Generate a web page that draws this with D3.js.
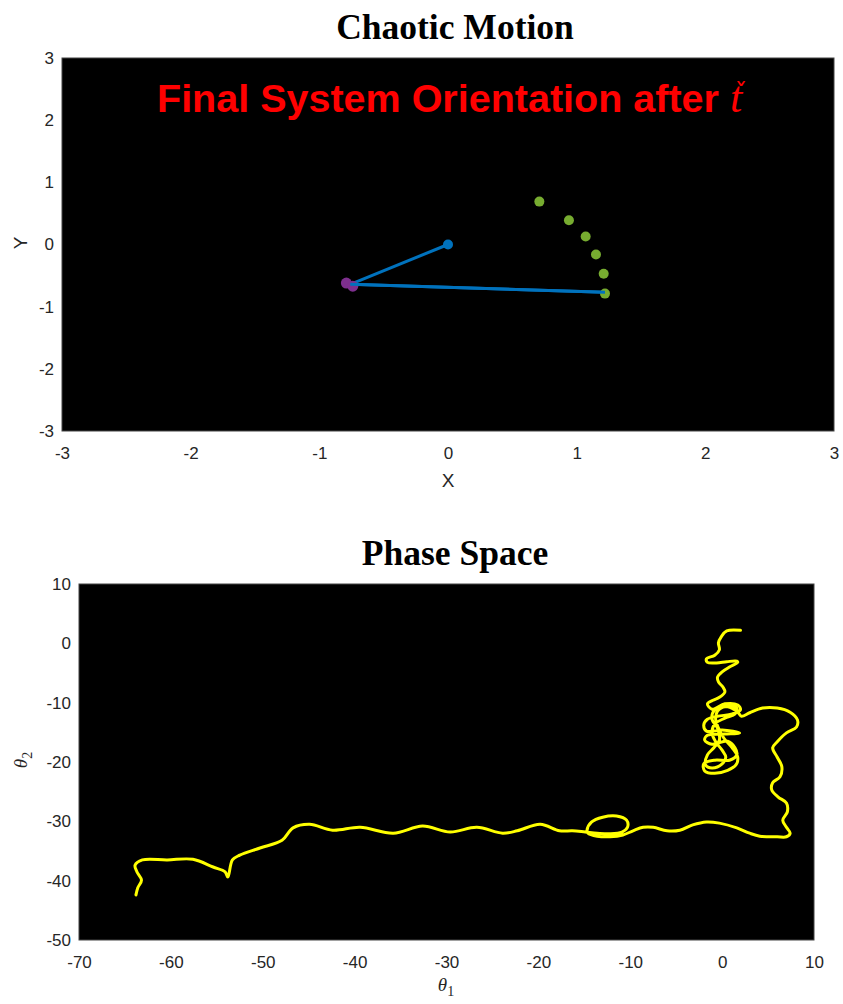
<!DOCTYPE html>
<html><head><meta charset="utf-8">
<script src="https://cdn.jsdelivr.net/npm/d3@7"></script>
<style>body{margin:0;background:#fff}svg{display:block}</style>
</head><body>
<script>
// ---- Data ----
const topTicks = [-3,-2,-1,0,1,2,3];
const pivot = [[0,0]];
const rodPath = [[0,0],[-0.76,-0.64],[1.22,-0.77]];
const mass1Trail = [[-0.79,-0.62],[-0.74,-0.67]];
const mass2Trail = [[0.71,0.69],[0.94,0.39],[1.07,0.13],[1.15,-0.16],[1.21,-0.47],[1.22,-0.79]];

const phaseXTicks = [-70,-60,-50,-40,-30,-20,-10,0,10];
const phaseYTicks = [10,0,-10,-20,-30,-40,-50];
const theta1 = [2.0,0.5,-0.1,-0.4,-0.3,-0.8,-1.7,-1.6,-0.6,0.5,1.6,1.7,0.8,0.0,-0.5,-0.4,0.1,0.3,-0.3,-1.0,-1.6,
 -1.1,0.3,1.7,2.0,1.1,-0.5,-1.6,-2.0,-1.7,0.0,1.9,0.3,-1.6,-1.9,-1.1,0.6,1.4,1.6,0.8,-0.8,-2.0,-1.9,-0.8,0.6,1.5,1.7,1.1,0.2,-0.4,-0.7,-0.5,0.5,1.6,1.4,0.3,-0.8,-1.1,-0.7,0.0,0.4,0.0,-1.1,-1.8,-1.6,-0.9,-0.3,-0.5,-1.1,-0.8,0.6,1.7,2.1,
 3.0,4.4,6.0,7.4,8.2,8.1,7.0,6.0,5.5,6.0,6.5,6.3,5.5,5.4,6.1,7.0,7.1,6.6,7.0,7.4,7.0,6.0,4.1,3.0,1.6,-0.3,-1.7,-3.2,-4.6,-6.0,-7.5,-8.6,-9.7,-10.8,-12.2,-13.6,-14.6,-14.7,-14.2,-13.0,-11.5,-10.4,-10.3,-10.9,-12.2,-13.6,-14.9,-16.3,-17.7,
 -19.8,-22.3,-23.9,-26.7,-29.6,-32.6,-35.8,-39.4,-42.4,-44.9,-46.7,-47.9,-50.3,-52.5,-53.3,-53.8,-54.1,-55.4,-57.6,-60.4,-63.1,-63.9,-63.7,-63.2,-63.6,-63.8];
const theta2 = [2.2,2.1,1.1,0.1,-1.1,-2.0,-2.6,-3.2,-3.3,-3.1,-3.0,-3.2,-4.0,-4.8,-5.7,-6.5,-7.4,-8.2,-9.1,-9.6,-10.2,
 -11.1,-10.2,-10.4,-11.2,-11.9,-12.3,-12.8,-13.8,-14.8,-14.6,-15.1,-15.3,-15.5,-16.3,-17.0,-16.5,-17.6,-18.8,-19.7,-19.7,-20.3,-21.5,-21.9,-21.4,-20.5,-19.2,-17.6,-16.0,-14.3,-12.9,-11.4,-10.6,-10.9,-11.9,-12.6,-13.6,-15.1,-16.6,-18.0,-19.2,-20.3,-21.0,-20.5,-18.8,-17.6,-16.3,-14.3,-12.8,-11.2,-10.7,-11.6,-12.3,
 -11.7,-10.9,-10.9,-11.6,-12.9,-14.1,-15.1,-16.6,-17.6,-19.2,-20.8,-22.5,-23.5,-24.7,-25.9,-26.9,-28.4,-29.8,-31.0,-32.0,-32.6,-32.6,-32.5,-32.0,-31.1,-30.3,-30.1,-30.6,-31.5,-31.6,-31.0,-31.0,-31.6,-32.3,-32.6,-32.5,-32.0,-31.5,-30.1,-29.3,-29.1,-29.8,-31.0,-31.8,-32.1,-32.0,-31.8,-31.6,-31.6,
 -30.5,-31.6,-32.0,-31.0,-31.8,-30.8,-32.0,-31.0,-31.5,-30.5,-31.1,-33.2,-34.5,-35.7,-36.5,-39.4,-38.5,-37.7,-36.4,-36.5,-36.5,-37.4,-38.5,-39.9,-41.2,-42.4];

// ---- Layout ----
const W = 843, H = 1004;
const svg = d3.select("body").append("svg").attr("width", W).attr("height", H);
const tickColor = "#262626";
const font = "'Liberation Sans', Arial, sans-serif";
const serif = "'Liberation Serif','Times New Roman',serif";
const fmt = d => String(d);

function styleAxis(g){
  g.select(".domain").remove();
  g.selectAll(".tick line").remove();
  g.selectAll("text").attr("fill",tickColor).style("font-family",font).style("font-size","17px");
}

// ---- Top plot ----
const t = {l:62, r:834, t:58, b:431};
const x1 = d3.scaleLinear().domain([-3,3]).range([t.l, t.r]);
const y1 = d3.scaleLinear().domain([-3,3]).range([t.b, t.t]);
svg.append("rect").attr("x",t.l).attr("y",t.t).attr("width",t.r-t.l).attr("height",t.b-t.t)
  .attr("fill","#000").attr("stroke","#444").attr("stroke-width",1);
svg.append("g").attr("transform",`translate(0,${t.b})`)
  .call(d3.axisBottom(x1).tickValues(topTicks).tickFormat(fmt).tickSize(6).tickPadding(10))
  .call(styleAxis);
svg.append("g").attr("transform",`translate(${t.l},0)`)
  .call(d3.axisLeft(y1).tickValues(topTicks).tickFormat(fmt).tickSize(0).tickPadding(8))
  .call(styleAxis);

svg.append("path").datum(rodPath)
  .attr("d", d3.line().x(d=>x1(d[0])).y(d=>y1(d[1])))
  .attr("fill","none").attr("stroke","#0072BD").attr("stroke-width",3);
svg.selectAll(".m2").data(mass2Trail).join("circle")
  .attr("cx",d=>x1(d[0])).attr("cy",d=>y1(d[1])).attr("r",5).attr("fill","#77AC30");
svg.selectAll(".m1").data(mass1Trail).join("circle")
  .attr("cx",d=>x1(d[0])).attr("cy",d=>y1(d[1])).attr("r",5.5).attr("fill","#7E2F8E");
svg.append("path").datum(rodPath.slice(1))
  .attr("d", d3.line().x(d=>x1(d[0])).y(d=>y1(d[1])))
  .attr("fill","none").attr("stroke","#0072BD").attr("stroke-width",3);
svg.selectAll(".pv").data(pivot).join("circle")
  .attr("cx",d=>x1(d[0])).attr("cy",d=>y1(d[1])).attr("r",5).attr("fill","#0072BD");

const red = svg.append("text").attr("x",157).attr("y",112)
  .attr("fill","#ff0000").style("font-family",font).style("font-weight","bold").style("font-size","39.5px");
red.append("tspan").text("Final System Orientation after ");
red.append("tspan").text("t").style("font-family",serif)
  .style("font-style","italic").style("font-weight","normal").style("font-size","44px");
const rb = red.node().getBBox();
red.append("tspan").attr("x", rb.x + rb.width - 3).attr("y", 103).attr("text-anchor","middle")
  .style("font-family","'DejaVu Sans',sans-serif").style("font-weight","normal").style("font-size","26px")
  .text("\u02C7");

svg.append("text").attr("x",455).attr("y",39).attr("text-anchor","middle")
  .style("font-family",serif).style("font-weight","bold").style("font-size","35.5px")
  .attr("fill","#000").text("Chaotic Motion");
svg.append("text").attr("x",448).attr("y",487).attr("text-anchor","middle")
  .style("font-family",font).style("font-size","19px").attr("fill",tickColor).text("X");
svg.append("text").attr("transform","translate(27,243) rotate(-90)").attr("text-anchor","middle")
  .style("font-family",font).style("font-size","19px").attr("fill",tickColor).text("Y");

// ---- Bottom plot ----
const b = {l:79, r:814, t:584, b:940};
const x2 = d3.scaleLinear().domain([-70,10]).range([b.l, b.r]);
const y2 = d3.scaleLinear().domain([-50,10]).range([b.b, b.t]);
svg.append("rect").attr("x",b.l).attr("y",b.t).attr("width",b.r-b.l).attr("height",b.b-b.t)
  .attr("fill","#000").attr("stroke","#444").attr("stroke-width",1);
svg.append("g").attr("transform",`translate(0,${b.b})`)
  .call(d3.axisBottom(x2).tickValues(phaseXTicks).tickFormat(fmt).tickSize(6).tickPadding(10))
  .call(styleAxis);
svg.append("g").attr("transform",`translate(${b.l},0)`)
  .call(d3.axisLeft(y2).tickValues(phaseYTicks).tickFormat(fmt).tickSize(0).tickPadding(8))
  .call(styleAxis);

const phase = theta1.map((v,i)=>[v, theta2[i]]);
svg.append("path").datum(phase)
  .attr("d", d3.line().x(d=>x2(d[0])).y(d=>y2(d[1])).curve(d3.curveCatmullRom.alpha(0.5)))
  .attr("fill","none").attr("stroke","#ffff00").attr("stroke-width",3).attr("stroke-linejoin","round").attr("stroke-linecap","round");

svg.append("text").attr("x",455).attr("y",565).attr("text-anchor","middle")
  .style("font-family",serif).style("font-weight","bold").style("font-size","35.5px")
  .attr("fill","#000").text("Phase Space");

const xl = svg.append("text").attr("x",446).attr("y",991).attr("text-anchor","middle")
  .style("font-family",serif).style("font-size","19px").attr("fill",tickColor);
xl.append("tspan").text("\u03B8").style("font-style","italic");
xl.append("tspan").text("1").attr("dy",5).style("font-size","14px");
const yl = svg.append("text").attr("transform","translate(27,760) rotate(-90)").attr("text-anchor","middle")
  .style("font-family",serif).style("font-size","19px").attr("fill",tickColor);
yl.append("tspan").text("\u03B8").style("font-style","italic");
yl.append("tspan").text("2").attr("dy",5).style("font-size","14px");
</script>
</body></html>
